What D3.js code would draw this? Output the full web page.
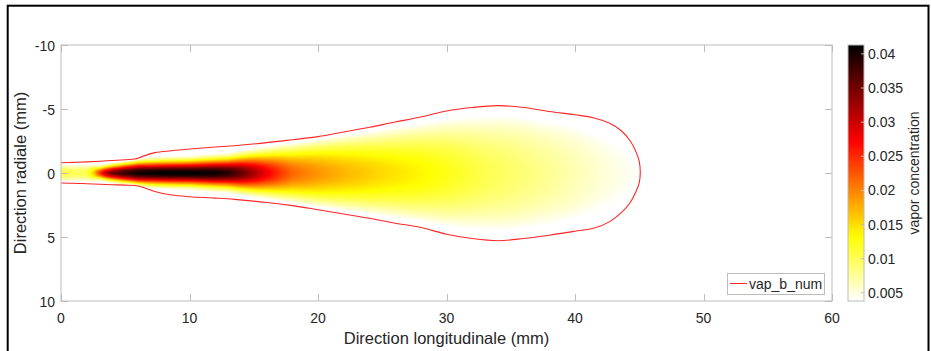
<!DOCTYPE html>
<html><head><meta charset="utf-8">
<script src="https://cdn.jsdelivr.net/npm/d3@7"></script>
<style>body{margin:0;background:#fff} svg{display:block} text{font-family:"Liberation Sans",Arial,Helvetica,sans-serif;fill:#262626}</style>
</head><body><svg id="chart" width="931" height="351"></svg>
<script>
// ---- data ----
const xTicks = [0, 10, 20, 30, 40, 50, 60];
const yTicks = [-10, -5, 0, 5, 10];
const cbTicks = [0.005, 0.01, 0.015, 0.02, 0.025, 0.03, 0.035, 0.04];
const colorLimits = [0.0038, 0.0413];
const seriesName = "vap_b_num";

// contour (red line): longitudinal position (mm) and radial half-widths (mm)
const boundaryX     = [0, 1, 2, 3, 4, 5, 5.75, 6.3, 7.3, 8.6, 10, 12, 13.5, 16, 18, 20, 22, 24, 26, 28, 30, 32, 34, 36, 38, 40, 41.5, 42.7, 43.6, 44.3, 44.75, 45.0, 45.08];
const boundaryUpper = [0.80, 0.83, 0.87, 0.92, 0.98, 1.04, 1.09, 1.28, 1.59, 1.74, 1.87, 2.03, 2.13, 2.37, 2.6, 2.84, 3.2, 3.57, 3.98, 4.37, 4.85, 5.12, 5.26, 5.12, 4.8, 4.55, 4.3, 3.88, 3.3, 2.5, 1.65, 0.9, 0];
const boundaryLower = [0.78, 0.80, 0.84, 0.88, 0.92, 0.95, 0.98, 1.1, 1.45, 1.72, 1.85, 1.96, 2.06, 2.3, 2.55, 2.87, 3.2, 3.54, 3.92, 4.26, 4.78, 5.12, 5.29, 5.12, 4.86, 4.55, 4.3, 3.8, 3.1, 2.3, 1.45, 0.75, 0];

// vapor concentration on the axis
const centerX    = [0, 1, 2, 2.5, 3, 3.5, 4, 5, 6, 8, 10, 12, 13, 14, 15, 16, 17, 18, 20, 22, 25, 28, 30, 33, 36, 39, 42, 44, 45];
const centerConc = [0.0110, 0.0098, 0.0105, 0.0150, 0.0240, 0.0310, 0.0350, 0.0385, 0.0405, 0.0413, 0.0413, 0.0405, 0.0390, 0.0360, 0.0320, 0.0280, 0.0245, 0.0215, 0.0190, 0.0172, 0.0152, 0.0136, 0.0124, 0.0103, 0.0088, 0.0072, 0.0054, 0.0044, 0.0039];

// radial spreading width of the concentration profile (mm)
const widthX = [0, 2, 3, 4, 6, 10, 13, 16, 20, 25, 30, 35, 40, 45];
const widthR = [0.8, 0.75, 0.5, 0.6, 0.85, 0.92, 1.1, 1.65, 2.6, 3.5, 4.6, 5.8, 6.0, 5.0];

// ---- layout ----
const svg = d3.select("#chart");
const P = {l: 61, t: 45, r: 832, b: 301};
const x = d3.scaleLinear().domain([0, 60]).range([P.l, P.r]);
const y = d3.scaleLinear().domain([-10, 10]).range([P.t, P.b]);
const CR = colorLimits[1] - colorLimits[0];
const color = d3.scaleLinear()
  .domain([colorLimits[0], colorLimits[0] + 0.25 * CR, colorLimits[0] + 0.625 * CR, colorLimits[1]])
  .range(["#ffffff", "#ffff00", "#ff0000", "#000000"]).clamp(true);

// outer frame
svg.append("rect").attr("x", 7.7).attr("y", 5.7).attr("width", 920.8).attr("height", 400)
  .attr("fill", "none").attr("stroke", "#000").attr("stroke-width", 2);

// ---- field ----
const c0s = d3.scaleLinear().domain(centerX).range(centerConc).clamp(true);
const ws = d3.scaleLinear().domain(widthX).range(widthR).clamp(true);
const ubs = d3.scaleLinear().domain(boundaryX).range(boundaryUpper).clamp(true);
const lbs = d3.scaleLinear().domain(boundaryX).range(boundaryLower).clamp(true);
const pw = P.r - P.l, ph = P.b - P.t;
const cv = document.createElement("canvas");
cv.width = pw; cv.height = ph;
const ctx = cv.getContext("2d");
const img = ctx.createImageData(pw, ph);
const xMax = d3.max(boundaryX);
for (let j = 0; j < ph; j++) {
  const yy = y.invert(P.t + j + 0.5);
  const r = Math.abs(yy);
  for (let i = 0; i < pw; i++) {
    const xx = x.invert(P.l + i + 0.5);
    if (xx > xMax) break;
    const rb = yy < 0 ? ubs(xx) : lbs(xx);
    if (r >= rb) continue;
    const eta = r / rb;
    const w = ws(xx);
    const c = c0s(xx) * Math.exp(-(r / w) * (r / w)) * Math.sqrt(1 - Math.pow(eta, 5));
    const col = d3.rgb(color(c));
    const k = (j * pw + i) * 4;
    img.data[k] = col.r; img.data[k + 1] = col.g; img.data[k + 2] = col.b; img.data[k + 3] = 255;
  }
}
ctx.putImageData(img, 0, 0);
svg.append("image").attr("x", P.l).attr("y", P.t).attr("width", pw).attr("height", ph)
  .attr("preserveAspectRatio", "none").attr("href", cv.toDataURL());

// contour line
const pts = boundaryX.map((d, i) => [d, -boundaryUpper[i]])
  .concat(boundaryX.slice(0, -1).map((d, i) => [d, boundaryLower[i]]).reverse());
svg.append("path").attr("d", d3.line().x(d => x(d[0])).y(d => y(d[1])).curve(d3.curveCatmullRom.alpha(0.5))(pts))
  .attr("fill", "none").attr("stroke", "#ff0000").attr("stroke-width", 1.1).attr("opacity", 0.85);

// ---- axes ----
const axisCol = "#bcbcbc";
const g = svg.append("g");
g.append("rect").attr("x", P.l).attr("y", P.t).attr("width", pw).attr("height", ph)
  .attr("fill", "none").attr("stroke", axisCol).attr("stroke-width", 1);
const TL = 7;
xTicks.forEach(t => {
  const px = Math.round(x(t)) + 0.5;
  g.append("line").attr("x1", px).attr("x2", px).attr("y1", P.b).attr("y2", P.b - TL).attr("stroke", axisCol);
  g.append("line").attr("x1", px).attr("x2", px).attr("y1", P.t).attr("y2", P.t + TL).attr("stroke", axisCol);
  g.append("text").attr("x", x(t)).attr("y", 323).attr("text-anchor", "middle").attr("font-size", 14).text(t);
});
yTicks.forEach(t => {
  const py = Math.round(y(t)) + 0.5;
  g.append("line").attr("x1", P.l).attr("x2", P.l + TL).attr("y1", py).attr("y2", py).attr("stroke", axisCol);
  g.append("line").attr("x1", P.r).attr("x2", P.r - TL).attr("y1", py).attr("y2", py).attr("stroke", axisCol);
  g.append("text").attr("x", 55).attr("y", y(t) + 6).attr("text-anchor", "end").attr("font-size", 14).text(t);
});
g.append("text").attr("x", (P.l + P.r) / 2).attr("y", 344).attr("text-anchor", "middle")
  .attr("font-size", 16.5).text("Direction longitudinale (mm)");
g.append("text").attr("transform", `translate(26,${(P.t + P.b) / 2}) rotate(-90)`).attr("text-anchor", "middle")
  .attr("font-size", 16.5).text("Direction radiale (mm)");

// ---- legend ----
const L = {x: 727, y: 273, w: 97, h: 21};
svg.append("rect").attr("x", L.x + 0.5).attr("y", L.y + 0.5).attr("width", L.w).attr("height", L.h)
  .attr("fill", "#fff").attr("stroke", axisCol);
svg.append("line").attr("x1", 730).attr("x2", 747).attr("y1", 283.5).attr("y2", 283.5)
  .attr("stroke", "#ff0000").attr("opacity", 0.85);
svg.append("text").attr("x", 749).attr("y", 288.5).attr("font-size", 14).text(seriesName);

// ---- colorbar ----
const CB = {x: 848, w: 16};
const yc = d3.scaleLinear().domain(colorLimits).range([P.b, P.t]);
const grad = svg.append("defs").append("linearGradient").attr("id", "cbg")
  .attr("x1", 0).attr("y1", 1).attr("x2", 0).attr("y2", 0);
d3.range(0, 1.0001, 0.02).forEach(f => {
  grad.append("stop").attr("offset", f).attr("stop-color", color(colorLimits[0] + f * CR));
});
svg.append("rect").attr("x", CB.x).attr("y", P.t).attr("width", CB.w).attr("height", ph)
  .attr("fill", "url(#cbg)").attr("stroke", axisCol);
cbTicks.forEach(t => {
  const py = yc(t);
  svg.append("line").attr("x1", CB.x + CB.w).attr("x2", CB.x + CB.w - 3).attr("y1", py).attr("y2", py).attr("stroke", axisCol);
  svg.append("text").attr("x", 868).attr("y", py + 5).attr("font-size", 14).text(t);
});
svg.append("text").attr("transform", `translate(919,${(P.t + P.b) / 2}) rotate(-90)`).attr("text-anchor", "middle")
  .attr("font-size", 14).text("vapor concentration");
</script></body></html>
